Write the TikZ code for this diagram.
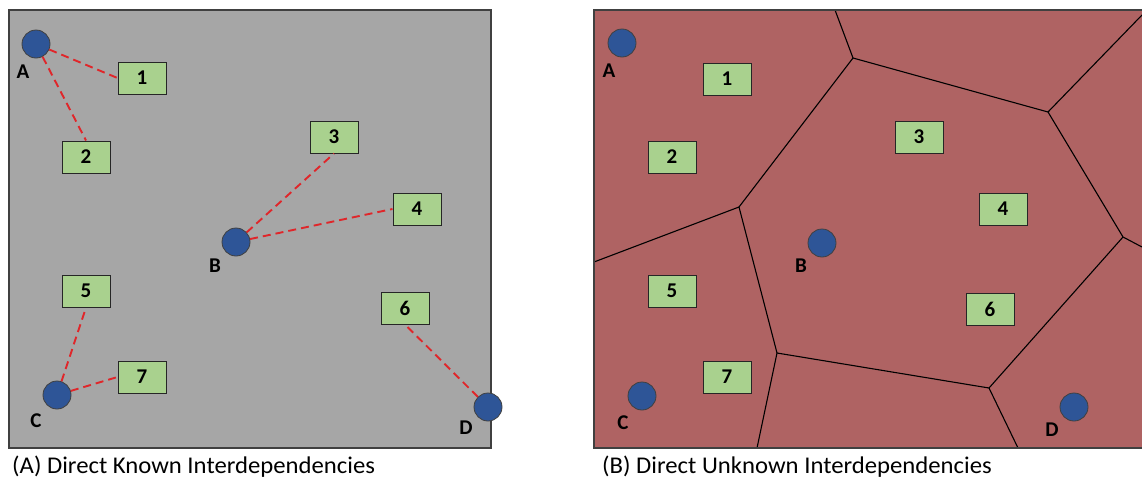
\documentclass[tikz,border=0pt]{standalone}
\usepackage{fontspec}
\setmainfont{Carlito}
\definecolor{panelgray}{HTML}{A6A6A6}
\definecolor{panelred}{HTML}{AF6363}
\definecolor{siteblue}{HTML}{2E5597}
\definecolor{boxgreen}{HTML}{A9D18E}
\definecolor{linkred}{HTML}{E0262A}
\begin{document}
\begin{tikzpicture}[x=1pt,y=-1pt,
  panelline/.style={draw=black!75, line width=1.4pt},
  site/.style={circle, draw=black!75, fill=siteblue, minimum size=28pt, inner sep=0pt, line width=0.8pt},
  item/.style={draw=black!85, fill=boxgreen, minimum width=48pt, minimum height=32pt, inner sep=0pt, font=\fontsize{21}{21}\selectfont\bfseries, line width=1pt},
  lbl/.style={font=\fontsize{21}{21}\selectfont\bfseries},
  link/.style={draw=linkred, line width=1.9pt, dash pattern=on 8pt off 5pt},
  vedge/.style={draw=black, line width=1.1pt},
  captext/.style={anchor=base west, inner sep=0pt, font=\fontsize{24}{24}\selectfont}
]
\useasboundingbox (0,0) rectangle (1142,482);
% panels
\fill[panelgray] (9,10) rectangle (491,448);
\draw[panelline] (9,10) rectangle (491,448);
\begin{scope}
\clip (0,0) rectangle (1142,482);
\fill[panelred] (594,10) rectangle (1150,448);
% voronoi edges
\coordinate (v1) at (853,58);
\coordinate (v2) at (1048,112);
\coordinate (v3) at (1123,237);
\coordinate (v4) at (989,388);
\coordinate (v5) at (777,353);
\coordinate (v6) at (739,207);
\coordinate (e1) at (835,10);
\coordinate (e2) at (1142,15);
\coordinate (e3) at (1142,247);
\coordinate (e4) at (1018,448);
\coordinate (e5) at (757,448);
\coordinate (e6) at (594,262);
\draw[vedge] (e1) -- (v1) -- (v2) -- (e2);
\draw[vedge] (v2) -- (v3) -- (e3);
\draw[vedge] (v3) -- (v4) -- (e4);
\draw[vedge] (v4) -- (v5) -- (e5);
\draw[vedge] (v5) -- (v6) -- (e6);
\draw[vedge] (v6) -- (v1);
\draw[panelline] (1150,10) -- (594,10) -- (594,448) -- (1150,448);
\end{scope}
% left panel
\node[site] (a) at (36,44) {};
\node[site] (b) at (236,242) {};
\node[site] (c) at (57,395) {};
\node[site] (d) at (488,407) {};
\node[lbl] (la) at (23,72) {A};
\node[lbl] (lb) at (215,266) {B};
\node[lbl] (lc) at (36,421) {C};
\node[lbl] (ld) at (466,428) {D};
\node[item] (n1) at (142,78) {1};
\node[item] (n2) at (86,157) {2};
\node[item] (n3) at (334,137) {3};
\node[item] (n4) at (417,209) {4};
\node[item] (n5) at (86,291) {5};
\node[item] (n6) at (405,308) {6};
\node[item] (n7) at (142,377) {7};
\draw[link] (a) -- (n1.west);
\draw[link] (a) -- (n2.north);
\draw[link] (b) -- (n3.south);
\draw[link] (b) -- (n4.west);
\draw[link] (c) -- (n5.south);
\draw[link] (c) -- (n7.west);
\draw[link] (d) -- (n6.south);
% right panel
\node[site] (ra) at (622,43) {};
\node[site] (rb) at (822,243) {};
\node[site] (rc) at (642,396) {};
\node[site] (rd) at (1074,407) {};
\node[lbl] (rla) at (609,71) {A};
\node[lbl] (rlb) at (801,266) {B};
\node[lbl] (rlc) at (623,423) {C};
\node[lbl] (rld) at (1052,430) {D};
\node[item] (r1) at (727,79) {1};
\node[item] (r2) at (672,157) {2};
\node[item] (r3) at (919,137) {3};
\node[item] (r4) at (1003,209) {4};
\node[item] (r5) at (672,291) {5};
\node[item] (r6) at (990,309) {6};
\node[item] (r7) at (727,377) {7};
% captions
\node[captext] (capa) at (12,473) {\scalebox{1.03}[1]{(A) Direct Known Interdependencies}};
\node[captext] (capb) at (602,473) {\scalebox{1.03}[1]{(B) Direct Unknown Interdependencies}};
\end{tikzpicture}
\end{document}
